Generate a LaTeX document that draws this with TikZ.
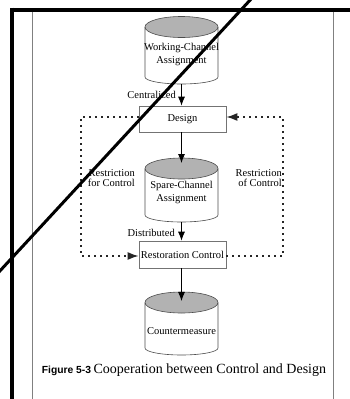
\documentclass[tikz,border=0pt]{standalone}
\usepackage{fontspec}
\setmainfont{Liberation Serif}
\setsansfont{Liberation Sans}
\usetikzlibrary{arrows.meta}
\tikzset{
  cylline/.style={draw=black!70, line width=0.6pt},
  topfill/.style={fill=black!30},
  lab/.style={inner sep=0pt, font=\fontsize{10.5}{13}\selectfont},
  box/.style={draw=black!55, line width=0.7pt, fill=white, minimum width=87pt, inner sep=0pt, font=\fontsize{10.5}{13}\selectfont},
  arr/.style={draw=black, line width=0.8pt, -{Latex[length=9pt,width=7pt]}},
  dotline/.style={draw=black!85, line width=1.5pt, dash pattern=on 1.5pt off 4.5pt},
  dotarr/.style={dotline, -{Latex[length=11pt,width=8pt]}},
  frame/.style={line width=4pt, black},
  thinframe/.style={line width=0.8pt, black!50},
}
\newcommand\mycyl[7]{% name, cx, ellipse centre y, side end y, text y, text, bottom ry
  \fill[topfill] (#2,-#3) ellipse (36.5 and 10.5);
  \draw[cylline] (#2-36.5,-#3) -- (#2-36.5,-#4) arc (180:360:36.5 and #7) -- (#2+36.5,-#3);
  \draw[cylline] (#2,-#3) ellipse (36.5 and 10.5);
  \node[lab, align=center] (#1) at (#2,-#5) {#6};
  \coordinate (#1-bot) at (#2,-#4-#7);
}
\begin{document}
\begin{tikzpicture}[x=1pt,y=1pt]
\useasboundingbox (0,0) rectangle (350,-399);
\clip (0,0) rectangle (350,-399);
% frame
\draw[thinframe] (32.5,-9.5) -- (32.5,-399);
\draw[thinframe] (333,-9.5) -- (333,-399);
% cylinders
\mycyl{wc}{181.5}{27}{77}{54.5}{Working-Channel\\Assignment}{7}
\mycyl{sc}{181.5}{168.5}{215}{192.5}{Spare-Channel\\Assignment}{7}
\mycyl{cm}{181.5}{302.5}{348}{331}{Countermeasure}{7}
\coordinate (sc-in) at (181.5,-163);
\coordinate (cm-in) at (181.5,-301);
% boxes
\node[box, minimum height=26pt] (design) at (182.5,-119) {Design};
\node[box, minimum height=27pt] (rest) at (182.5,-254.5) {Restoration Control};
% arrows
\draw[arr] (wc-bot) -- (wc-bot |- design.north);
\draw[arr] (sc-bot |- design.south) -- (sc-in);
\draw[arr] (sc-bot) -- (sc-bot |- rest.north);
\draw[arr] (cm-in |- rest.south) -- (cm-in);
% labels
\node[lab, anchor=east] (lcen) at (176,-95) {Centralized};
\node[lab, anchor=east] (ldis) at (175,-233) {Distributed};
\node[lab, anchor=east, align=right, font=\fontsize{10.5}{10.5}\selectfont] (lrl) at (135,-178) {Restriction\\for Control};
\node[lab, anchor=east, align=right, font=\fontsize{10.5}{10.5}\selectfont] (lrr) at (282,-178) {Restriction\\of Control};
% dotted loops
\coordinate (l1) at (81,-117);
\coordinate (l2) at (81,-256);
\coordinate (r1) at (283,-256);
\coordinate (r2) at (283,-117);
\draw[dotarr] ([yshift=2pt]design.west) -- (l1) -- (l2) -- ([yshift=-1.5pt]rest.west);
\draw[dotarr] ([yshift=-1.5pt]rest.east) -- (r1) -- (r2) -- ([yshift=2pt]design.east);
% caption
\node[inner sep=0pt] (cap) at (184,-370) {{\fontsize{10.3}{12}\sffamily\bfseries Figure 5-3} {\fontsize{14}{16}\selectfont Cooperation between Control and Design}};
% heavy frame and strike line
\draw[frame] (10,-9.5) -- (350,-9.5);
\draw[frame] (12,-7.5) -- (12,-399);
\draw[line width=3pt] (252,2) -- (-2,-273);
\end{tikzpicture}
\end{document}
